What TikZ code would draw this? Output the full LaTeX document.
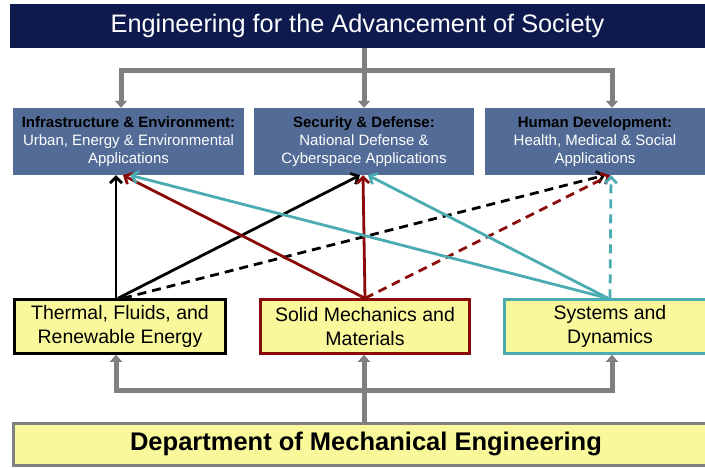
\documentclass[tikz,border=0pt]{standalone}
\usepackage{fontspec}
\setmainfont{Liberation Sans}
\usetikzlibrary{arrows.meta,positioning}
\definecolor{navy}{HTML}{0E1A4E}
\definecolor{areablue}{HTML}{536C97}
\definecolor{groupyellow}{HTML}{F9F99C}
\definecolor{trunkgray}{HTML}{808080}
\definecolor{solidred}{HTML}{8A0A0A}
\definecolor{systeal}{HTML}{4AABB1}

\begin{document}
\begin{tikzpicture}[x=1pt,y=-1pt,>={Straight Barb[length=6pt,width=12pt]},
   area/.style={fill=areablue,text=white,minimum height=67pt,inner sep=0pt,
     align=center,font=\fontsize{15}{18}\selectfont},
   group/.style={fill=groupyellow,line width=2.5pt,minimum height=54pt,inner sep=0pt,
     align=center,font=\fontsize{19.5}{23.5}\selectfont},
   trunk/.style={draw=trunkgray,line width=5pt},
   tip/.style={-{Triangle[length=7pt,width=12pt]}},
   link/.style={line width=2.8pt},
   dashlink/.style={dash pattern=on 9pt off 6pt}]
   \useasboundingbox (0,0) rectangle (705,467);
   % top level
   \node[fill=navy,text=white,minimum width=695pt,minimum height=44pt,
     font=\fontsize{25.3}{28}\selectfont] (society) at (357.5,26)
     {Engineering for the Advancement of Society};
   % application areas
   \node[area,minimum width=231pt] (infra) at (128.5,141.5)
     {\textbf{\color{black}Infrastructure \& Environment:}\\Urban, Energy \& Environmental\\Applications};
   \node[area,minimum width=220pt] (security) at (364,141.5)
     {\textbf{\color{black}Security \& Defense:}\\National Defense \&\\Cyberspace Applications};
   \node[area,minimum width=220pt] (human) at (595,141.5)
     {\textbf{\color{black}Human Development:}\\Health, Medical \& Social\\Applications};
   % research groups
   \node[group,draw=black,minimum width=211pt] (thermal) at (120,326.5)
     {Thermal, Fluids, and\\Renewable Energy};
   \node[group,draw=solidred,minimum width=209pt] (solid) at (365,326.5)
     {Solid Mechanics and\\Materials};
   \node[group,draw=systeal,minimum width=211pt] (systems) at (610,326.5)
     {Systems and\\Dynamics};
   % department
   \node[fill=groupyellow,draw=trunkgray,line width=3pt,minimum width=706pt,minimum height=42pt,
     font=\fontsize{25.5}{28}\selectfont\bfseries] (dept) at (366,444)
     {Department of Mechanical Engineering};
   \coordinate (topsplit) at (364,70);
   \coordinate (botsplit) at (364,390);
   % gray trunks
   \draw[trunk] (topsplit |- society.south) -- (topsplit);
   \draw[trunk,tip] (topsplit) -| ([xshift=-7.5]infra.north);
   \draw[trunk,tip] (topsplit) -- (security.north);
   \draw[trunk,tip] (topsplit) -| ([xshift=17]human.north);
   \draw[trunk] (botsplit |- dept.north) -- (botsplit);
   \draw[trunk,tip] (botsplit) -| ([xshift=-4]thermal.south);
   \draw[trunk,tip] (botsplit) -- (botsplit |- solid.south);
   \draw[trunk,tip] (botsplit) -| ([xshift=2]systems.south);
   % links
   \path[link,->,black]
   ([xshift=-4]thermal.north) edge ([xshift=-12.5]infra.south)
   ([xshift=-2]thermal.north) edge ([xshift=-4]security.south)
   ([xshift=3]thermal.north) edge[dashlink] ([xshift=10]human.south);
   \path[link,->,solidred]
   (solid.north) edge ([xshift=-5.5]infra.south)
                 edge ([xshift=-1]security.south)
                 edge[dashlink] ([xshift=15]human.south);
   \path[link,->,systeal]
   ([xshift=-2]systems.north) edge ([xshift=1.5]infra.south)
                              edge ([xshift=4]security.south)
   (systems.north) edge[dashlink] ([xshift=16]human.south);
\end{tikzpicture}
\end{document}
